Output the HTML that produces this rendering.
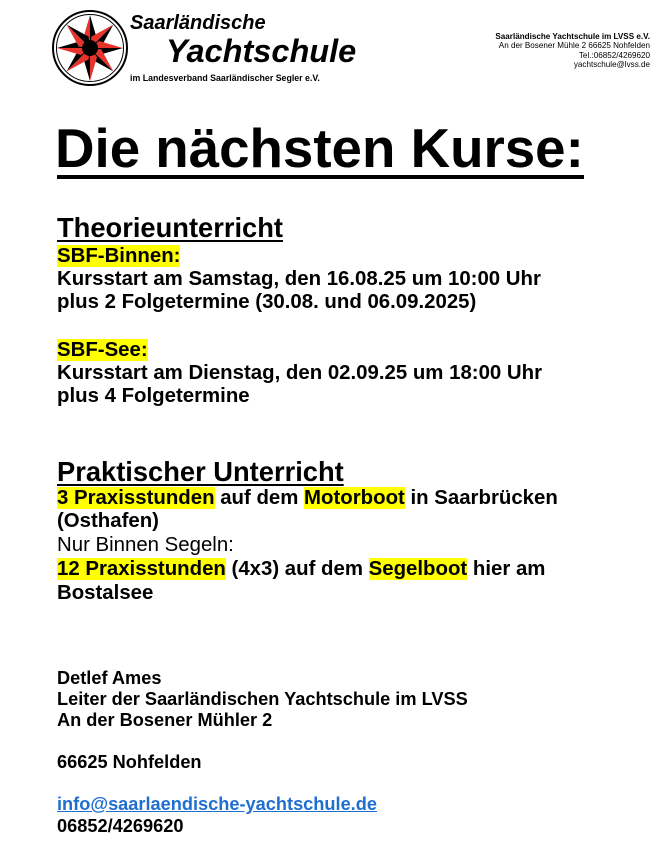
<!DOCTYPE html>
<html><head><meta charset="utf-8"><style>
body{margin:0;width:669px;height:842px;background:#fff;position:relative;overflow:hidden;font-family:"Liberation Sans",Arial,sans-serif;color:#000}
.a{position:absolute;white-space:nowrap}
.b{font-weight:bold;font-size:20.4px;line-height:23px;left:57px}
.n{font-weight:normal}
.y{background:#ffff00}
.ad{font-weight:bold;font-size:18.2px;line-height:21px;left:57px}
.h{font-weight:bold;font-size:27.3px;line-height:32px;left:57px;text-decoration:underline;text-decoration-thickness:2px;text-underline-offset:3px}
.r{right:19px;font-size:8.1px;line-height:9.3px;text-align:right}
</style></head><body>
<svg class="a" style="left:50px;top:8px" width="80" height="80" viewBox="0 0 80 80">
<circle cx="40" cy="40" r="37" fill="none" stroke="#000" stroke-width="2"/>
<circle cx="40" cy="40" r="33.5" fill="none" stroke="#000" stroke-width="1"/>
<g id="s">
<polygon points="40,7 40,40 47,31" fill="#000"/>
<polygon points="40,7 40,40 33,31" fill="#e8322c"/>
</g>
<use href="#s" transform="rotate(45 40 40)"/>
<use href="#s" transform="rotate(90 40 40)"/>
<use href="#s" transform="rotate(135 40 40)"/>
<use href="#s" transform="rotate(180 40 40)"/>
<use href="#s" transform="rotate(225 40 40)"/>
<use href="#s" transform="rotate(270 40 40)"/>
<use href="#s" transform="rotate(315 40 40)"/>
<circle cx="40" cy="40" r="8" fill="#000"/>
</svg>
<div class="a" style="left:130px;top:12px;font-size:20px;font-weight:bold;font-style:italic">Saarländische</div>
<div class="a" style="left:166px;top:33px;font-size:32.5px;font-weight:bold;font-style:italic">Yachtschule</div>
<div class="a" style="left:130px;top:73px;font-size:8.8px;font-weight:bold">im Landesverband Saarländischer Segler e.V.</div>
<div class="a r" style="top:32px"><b>Saarländische Yachtschule im LVSS e.V.</b><br>An der Bosener Mühle 2 66625 Nohfelden<br>Tel.:06852/4269620<br>yachtschule@lvss.de</div>
<div class="a" style="left:55px;top:117px;font-size:54.7px;line-height:62px;font-weight:bold">Die nächsten Kurse:</div>
<div class="a" style="left:57px;top:175px;width:527px;height:4px;background:#000"></div>
<div class="a h" style="top:212px">Theorieunterricht</div>
<div class="a b" style="top:245px"><span class="y">SBF-Binnen:</span></div>
<div class="a b" style="top:268px">Kursstart am Samstag, den 16.08.25 um 10:00 Uhr</div>
<div class="a b" style="top:291px">plus 2 Folgetermine (30.08. und 06.09.2025)</div>
<div class="a b" style="top:339px"><span class="y">SBF-See:</span></div>
<div class="a b" style="top:362px">Kursstart am Dienstag, den 02.09.25 um 18:00 Uhr</div>
<div class="a b" style="top:385px">plus 4 Folgetermine</div>
<div class="a h" style="top:456px">Praktischer Unterricht</div>
<div class="a b" style="top:487px"><span class="y">3 Praxisstunden</span> auf dem <span class="y">Motorboot</span> in Saarbrücken</div>
<div class="a b" style="top:510px">(Osthafen)</div>
<div class="a b n" style="top:534px">Nur Binnen Segeln:</div>
<div class="a b" style="top:558px"><span class="y">12 Praxisstunden</span> (4x3) auf dem <span class="y">Segelboot</span> hier am</div>
<div class="a b" style="top:582px">Bostalsee</div>
<div class="a ad" style="top:668px">Detlef Ames</div>
<div class="a ad" style="top:689px">Leiter der Saarländischen Yachtschule im LVSS</div>
<div class="a ad" style="top:710px">An der Bosener Mühler 2</div>
<div class="a ad" style="top:752px">66625 Nohfelden</div>
<div class="a ad" style="top:794px;color:#1f6fd1;text-decoration:underline">info@saarlaendische-yachtschule.de</div>
<div class="a ad" style="top:816px">06852/4269620</div>
</body></html>
